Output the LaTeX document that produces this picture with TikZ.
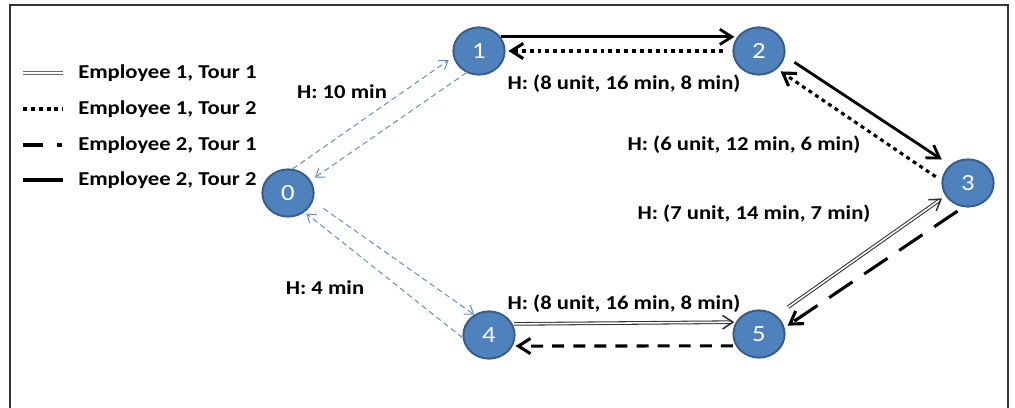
\documentclass[tikz,border=0pt]{standalone}
\usepackage{fontspec}
\setmainfont{Carlito}[FakeStretch=1.15]
\usetikzlibrary{arrows.meta}
\usetikzlibrary{shapes.geometric}

\definecolor{stopblue}{HTML}{4F81BD}
\definecolor{stopedge}{HTML}{385D8A}

\begin{document}
\begin{tikzpicture}[x=0.025cm, y=-0.025cm,
        stop/.style={ellipse, draw=stopedge, line width=1.4pt, fill=stopblue, text=white,
            minimum width=1.28cm, minimum height=1.18cm, inner sep=0pt,
            font=\fontsize{16.5}{16}\selectfont},
        cost/.style={font=\bfseries\fontsize{14}{14}\selectfont},
        key/.style={anchor=west, inner sep=0pt, font=\bfseries\fontsize{14}{14}\selectfont},
        bigtip/.style={-{Straight Barb[length=3mm, width=3.8mm]}},
        twin/.style={draw=black!80, double=white, line width=0.75pt, double distance=1.1pt},
        emp1tour1/.style={twin, -{Straight Barb[length=2.6mm, width=3.4mm, line width=1.1pt]}},
        emp1tour2/.style={line width=2.2pt, dash pattern=on 2.8pt off 2.8pt, bigtip},
        emp2tour1/.style={line width=2.2pt, dash pattern=on 8.5pt off 6.5pt, bigtip},
        emp2tour2/.style={line width=2pt, bigtip},
        depot/.style={draw=stopblue!90!white, line width=0.7pt, dash pattern=on 4pt off 2.6pt,
            -{Straight Barb[length=2mm, width=2.8mm, line width=0.7pt]}}]

        \useasboundingbox (0,0) rectangle (1015,408);
        \draw [black!80, line width=1.2pt] (10,408) -- (10,5) -- (1008,5) -- (1008,408);

        % stops
        \node [stop] (v0) at (288,193) {0};
        \node [stop] (v1) at (479,51) {1};
        \node [stop] (v2) at (759,51) {2};
        \node [stop] (v3) at (968,183) {3};
        \node [stop] (v4) at (489,335) {4};
        \node [stop] (v5) at (759,334) {5};

        % routes
        \draw [emp2tour2, shorten >=2pt] (v1.33) -- (v2.147);
        \draw [emp1tour2, shorten <=7pt, shorten >=2pt] (v2.west) -- (v1.east);
        \draw [emp2tour2, shorten <=8pt, shorten >=7pt] (v2.-11) -- (v3.135);
        \draw [emp1tour2, shorten <=5pt, shorten >=3pt] (v3.175) -- (v2.-45);
        \draw [emp1tour1, shorten <=10pt, shorten >=3pt] (v5.47) -- (v3.210);
        \draw [emp2tour1, dash pattern=on 20pt off 10pt, shorten <=5pt, shorten >=2.5pt] (v3.259) -- (v5.14);
        \draw [emp1tour1, shorten <=1pt, shorten >=1pt] (v4.25) -- (v5.153);
        \draw [emp2tour1, shorten <=2pt, shorten >=2pt] (v5.207) -- (v4.-25);
        \draw [depot, shorten >=4pt] (v0.79) -- (v1.193);
        \draw [depot, shorten >=3.5pt] (v1.240) -- (v0.29);
        \draw [depot, shorten <=9pt] (v0.-18) -- (v4.126);
        \draw [depot, shorten >=1.5pt] (v4.186) -- (v0.-49);

        % costs
        \node [cost] (l01) at (342,92) {H: 10 min};
        \node [cost] (l12) at (624,84) {H: (8 unit, 16 min, 8 min)};
        \node [cost] (l23) at (744,145) {H: (6 unit, 12 min, 6 min)};
        \node [cost] (l35) at (754,214) {H: (7 unit, 14 min, 7 min)};
        \node [cost] (l45) at (624,304) {H: (8 unit, 16 min, 8 min)};
        \node [cost] (l04) at (325,288) {H: 4 min};

        % legend
        \coordinate (k1a) at (23,73);  \coordinate (k1b) at (63,73);
        \coordinate (k2a) at (23,109); \coordinate (k2b) at (63,109);
        \coordinate (k3a) at (23,145); \coordinate (k3b) at (63,145);
        \coordinate (k4a) at (23,180); \coordinate (k4b) at (63,180);
        \draw [twin, draw=black!60] (k1a) -- (k1b);
        \draw [line width=2.2pt, dash pattern=on 2.8pt off 2.8pt] (k2a) -- (k2b);
        \draw [line width=2.2pt, dash pattern=on 14pt off 10pt on 3.5pt off 10pt] (k3a) -- (k3b);
        \draw [line width=2.2pt] (k4a) -- (k4b);
        \node [key] (e11) at (78,73) {Employee 1, Tour 1};
        \node [key] (e12) at (78,109) {Employee 1, Tour 2};
        \node [key] (e21) at (78,145) {Employee 2, Tour 1};
        \node [key] (e22) at (78,180) {Employee 2, Tour 2};
\end{tikzpicture}
\end{document}
